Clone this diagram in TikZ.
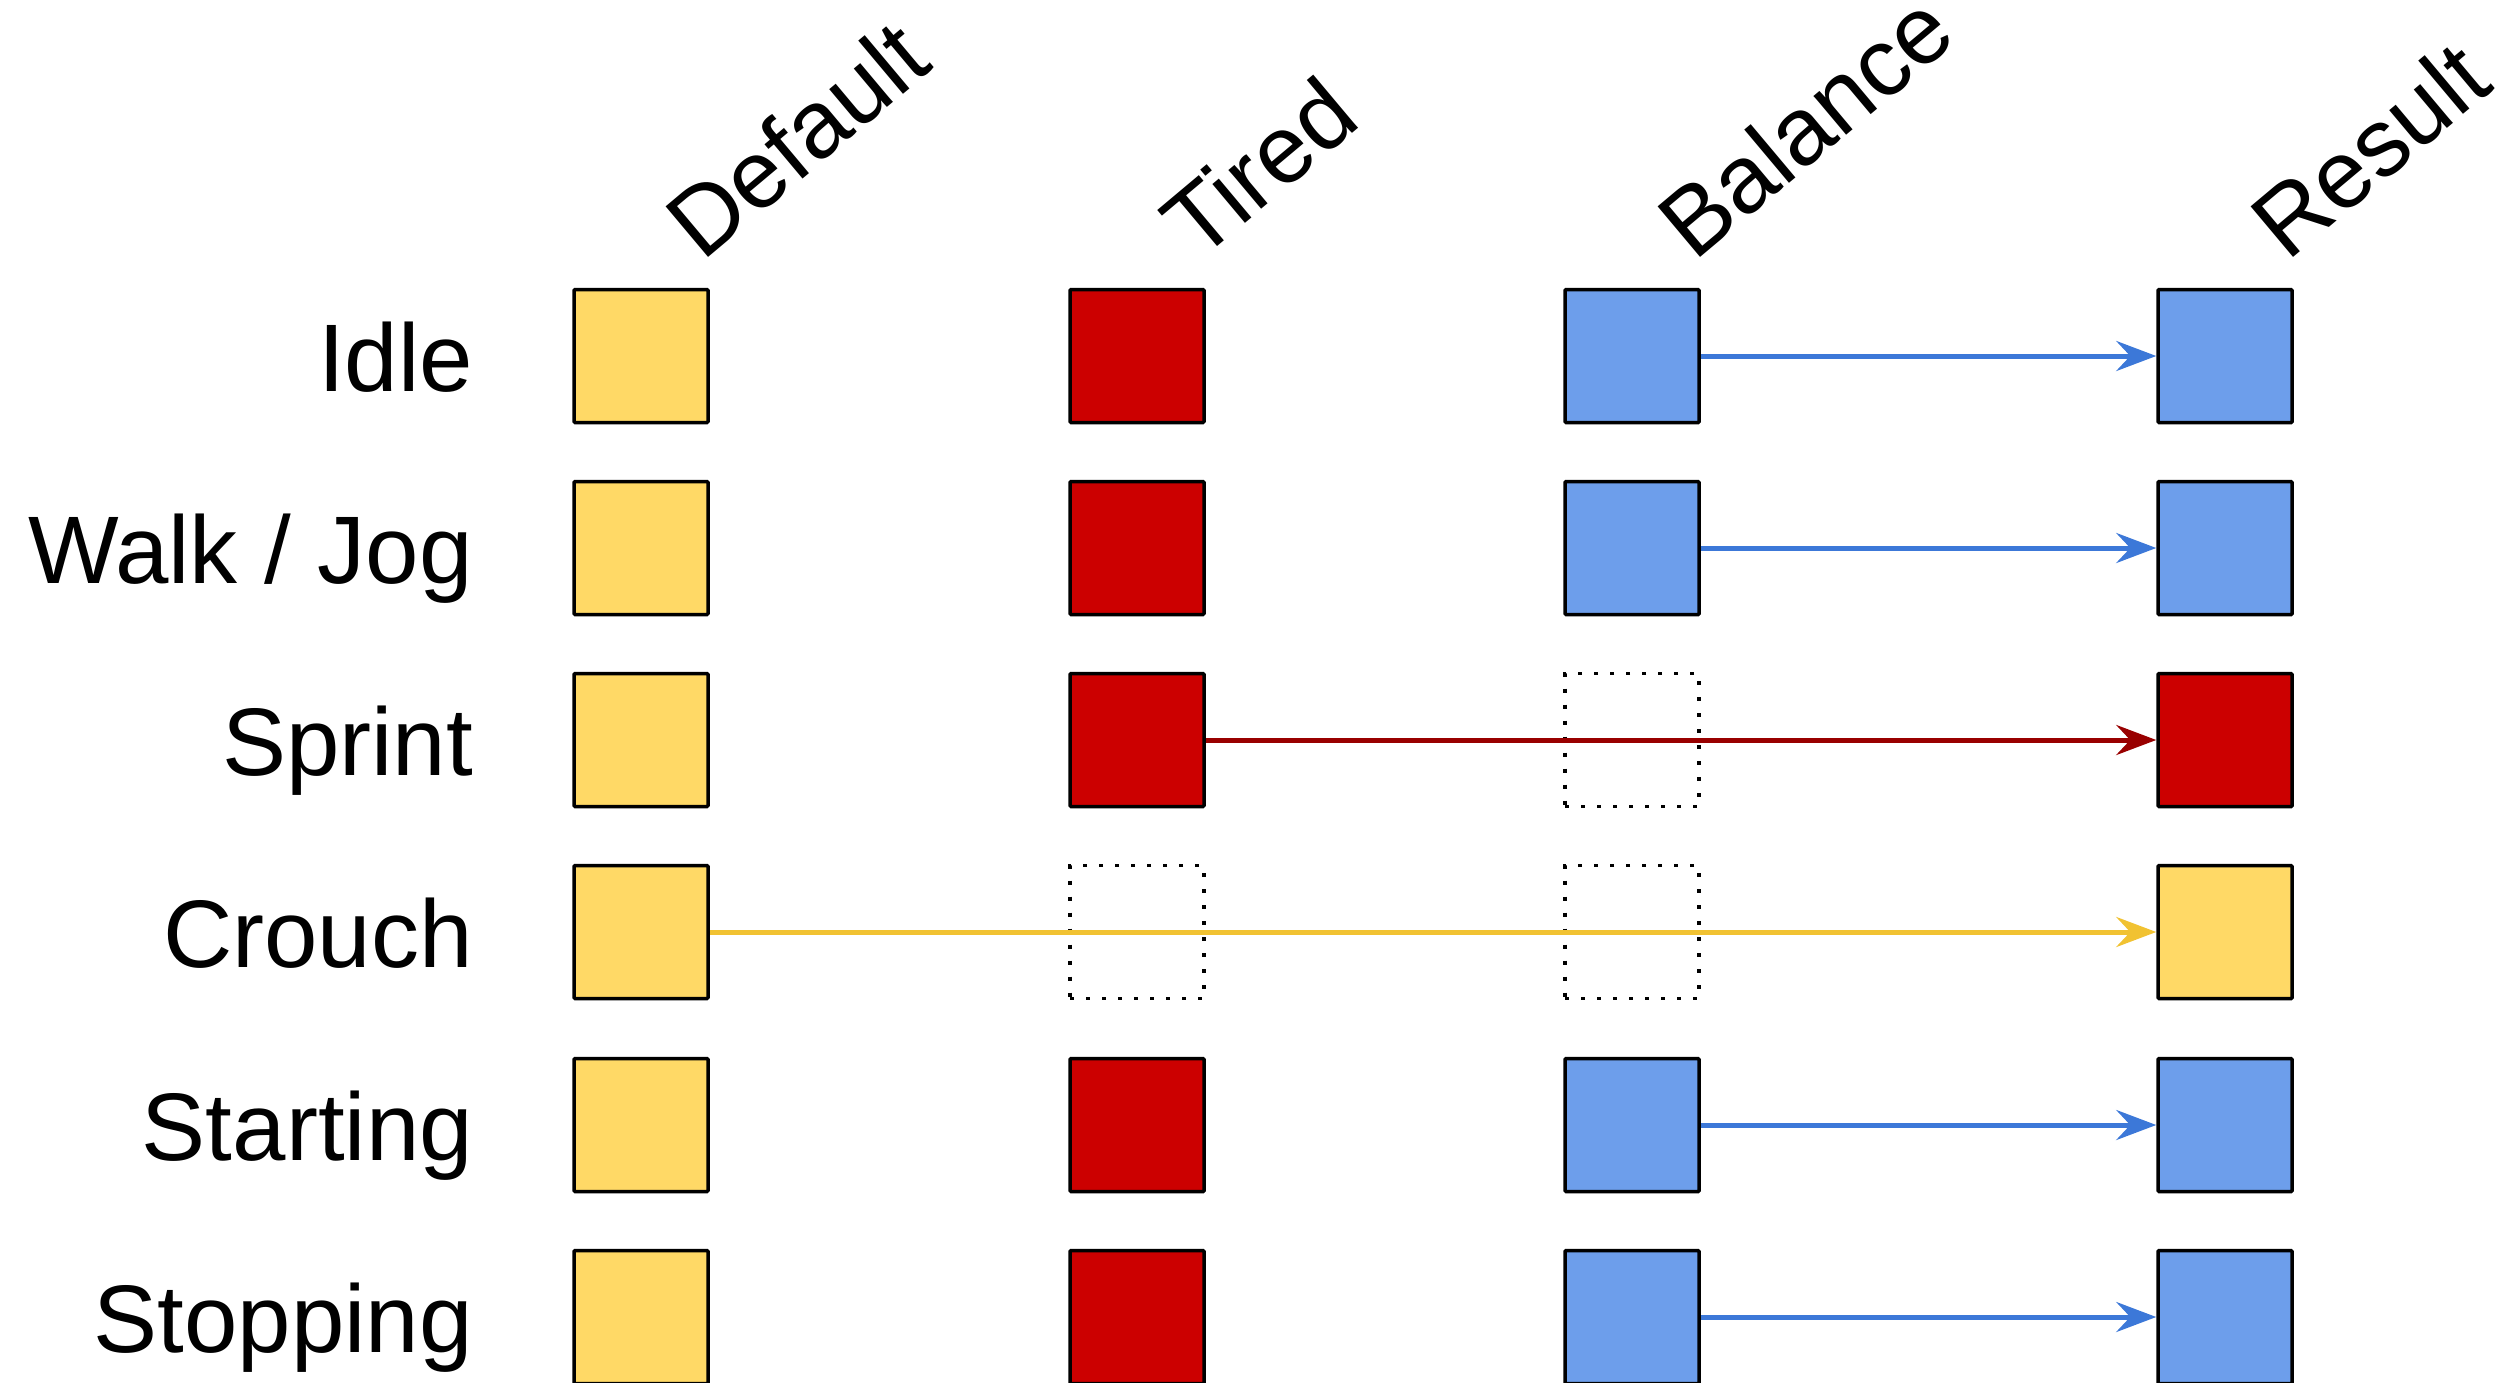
\documentclass[tikz,border=0pt]{standalone}
\usepackage{fontspec}
\setmainfont{Liberation Sans}
\usetikzlibrary{arrows.meta}
\definecolor{yfill}{HTML}{FFD966}
\definecolor{rfill}{HTML}{CC0000}
\definecolor{bfill}{HTML}{6D9EEB}
\definecolor{barrow}{HTML}{3C78D8}
\definecolor{rarrow}{HTML}{990000}
\definecolor{yarrow}{HTML}{F1C232}
\tikzset{
  cell/.style={draw=black, line width=3.5pt, minimum width=134pt, minimum height=133pt, inner sep=0pt, rounded corners=1pt},
  ycell/.style={cell, fill=yfill},
  rcell/.style={cell, fill=rfill},
  bcell/.style={cell, fill=bfill},
  ghost/.style={draw=black, line width=3.5pt, dash pattern=on 4pt off 12pt, minimum width=134pt, minimum height=133pt, inner sep=0pt},
  conn/.style={line width=5pt, -{Stealth[length=40pt, width=30pt, inset=14pt]}},
  rowlabel/.style={anchor=base east, inner sep=0pt, font=\fontsize{96}{115}\selectfont},
  colhead/.style={anchor=base west, rotate=40, inner sep=0pt, font=\fontsize{96}{115}\selectfont}
}
\begin{document}
\begin{tikzpicture}[x=1pt, y=-1pt]
\useasboundingbox (0,0) rectangle (2512,1382);
\node[colhead] (hDefault) at (702,263) {Default};
\node[colhead] (hTired) at (1198,263) {Tired};
\node[colhead] (hBalance) at (1694,263) {Balance};
\node[colhead] (hResult) at (2287,263) {Result};

\node[rowlabel] (lIdle) at (473,391) {Idle};
\node[rowlabel] (lWalk) at (473,583) {Walk / Jog};
\node[rowlabel] (lSprint) at (473,775) {Sprint};
\node[rowlabel] (lCrouch) at (473,967) {Crouch};
\node[rowlabel] (lStart) at (473,1160) {Starting};
\node[rowlabel] (lStop) at (473,1352) {Stopping};

% Idle
\node[ycell] (d1) at (641,356) {};
\node[rcell] (t1) at (1137,356) {};
\node[bcell] (b1) at (1632,356) {};
\node[bcell] (r1) at (2225,356) {};
% Walk
\node[ycell] (d2) at (641,548) {};
\node[rcell] (t2) at (1137,548) {};
\node[bcell] (b2) at (1632,548) {};
\node[bcell] (r2) at (2225,548) {};
% Sprint
\node[ycell] (d3) at (641,740) {};
\node[rcell] (t3) at (1137,740) {};
\node[ghost] (b3) at (1632,740) {};
\node[rcell] (r3) at (2225,740) {};
% Crouch
\node[ycell] (d4) at (641,932) {};
\node[ghost] (t4) at (1137,932) {};
\node[ghost] (b4) at (1632,932) {};
\node[ycell] (r4) at (2225,932) {};
% Starting
\node[ycell] (d5) at (641,1125) {};
\node[rcell] (t5) at (1137,1125) {};
\node[bcell] (b5) at (1632,1125) {};
\node[bcell] (r5) at (2225,1125) {};
% Stopping
\node[ycell] (d6) at (641,1317) {};
\node[rcell] (t6) at (1137,1317) {};
\node[bcell] (b6) at (1632,1317) {};
\node[bcell] (r6) at (2225,1317) {};

\draw[conn, barrow] (b1.east) -- (r1.west);
\draw[conn, barrow] (b2.east) -- (r2.west);
\draw[conn, rarrow] (t3.east) -- (r3.west);
\draw[conn, yarrow] (d4.east) -- (r4.west);
\draw[conn, barrow] (b5.east) -- (r5.west);
\draw[conn, barrow] (b6.east) -- (r6.west);
\end{tikzpicture}
\end{document}
